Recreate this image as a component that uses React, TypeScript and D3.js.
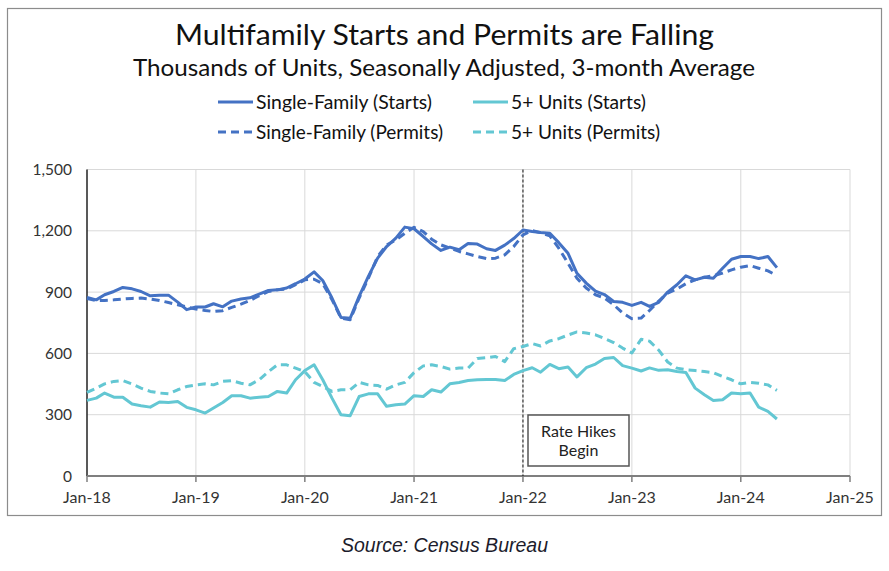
import React from "react";
import * as d3 from "d3";

const startMonth = new Date(2018, 0, 1);
const sfStarts = [874, 862, 887, 903, 923, 916, 903, 882, 885, 885, 851, 814, 827, 827, 843, 828, 856, 866, 872, 890, 908, 911, 920, 941, 964, 999, 957, 871, 776, 772, 879, 977, 1066, 1123, 1164, 1218, 1210, 1172, 1136, 1104, 1120, 1107, 1138, 1135, 1112, 1104, 1130, 1162, 1204, 1197, 1192, 1188, 1142, 1090, 992, 944, 905, 888, 854, 850, 835, 850, 830, 850, 900, 936, 980, 960, 973, 968, 1017, 1061, 1074, 1074, 1064, 1074, 1020];
const sfPermits = [868, 859, 859, 862, 866, 869, 871, 866, 859, 849, 838, 827, 817, 810, 805, 809, 825, 841, 859, 882, 903, 911, 915, 936, 960, 963, 941, 863, 773, 765, 871, 968, 1074, 1131, 1155, 1188, 1217, 1196, 1159, 1131, 1115, 1099, 1087, 1074, 1064, 1066, 1082, 1123, 1180, 1201, 1191, 1175, 1115, 1041, 968, 920, 887, 871, 838, 798, 770, 773, 810, 856, 895, 915, 941, 960, 973, 980, 993, 1009, 1022, 1030, 1017, 1004, 981];
const mfStarts = [370, 381, 406, 386, 385, 352, 344, 337, 362, 360, 365, 336, 324, 308, 333, 360, 393, 393, 381, 385, 389, 414, 406, 471, 516, 544, 471, 381, 300, 295, 389, 402, 402, 341, 349, 352, 393, 389, 422, 411, 451, 458, 467, 471, 472, 472, 467, 497, 516, 530, 508, 546, 525, 533, 485, 530, 548, 575, 580, 540, 528, 514, 529, 517, 520, 511, 506, 430, 398, 370, 373, 406, 402, 406, 337, 316, 279];
const mfPermits = [409, 430, 451, 463, 467, 450, 430, 414, 406, 402, 422, 438, 446, 451, 446, 463, 467, 454, 446, 471, 511, 544, 544, 528, 511, 458, 438, 414, 422, 422, 458, 446, 443, 425, 446, 458, 506, 539, 544, 536, 523, 528, 528, 575, 579, 585, 560, 623, 634, 648, 636, 661, 672, 690, 705, 700, 691, 673, 653, 626, 602, 669, 660, 616, 558, 528, 520, 516, 511, 506, 487, 471, 451, 458, 454, 446, 419];

const yTicks = [0, 300, 600, 900, 1200, 1500];
const xTickYears = [2018, 2019, 2020, 2021, 2022, 2023, 2024, 2025];
const rateHikeDate = new Date(2022, 0, 1);

const title = "Multifamily Starts and Permits are Falling";
const subtitle = "Thousands of Units, Seasonally Adjusted, 3-month Average";
const source = "Source: Census Bureau";

const DARK = "#4472C4";
const TEAL = "#63C7D3";

const seriesList = [
  { name: "Single-Family (Starts)", values: sfStarts, color: DARK, dashed: false },
  { name: "Single-Family (Permits)", values: sfPermits, color: DARK, dashed: true },
  { name: "5+ Units (Starts)", values: mfStarts, color: TEAL, dashed: false },
  { name: "5+ Units (Permits)", values: mfPermits, color: TEAL, dashed: true },
];

export default function App() {
  const W = 889, H = 571;
  const left = 87, right = 850, top = 169.5, bottom = 476;
  const x = d3.scaleTime().domain([new Date(2018, 0, 1), new Date(2025, 0, 1)]).range([left, right]);
  const y = d3.scaleLinear().domain([0, 1500]).range([bottom, top]);
  const dateOf = (i: number) => d3.timeMonth.offset(startMonth, i);
  const line = d3.line<number>().x((_, i) => x(dateOf(i))).y((d) => y(d));
  const font = "Lato, 'Open Sans', sans-serif";
  const xr = x(rateHikeDate);

  const legendItems = [
    { s: seriesList[0], lx: 218, ly: 102, tl: 176 },
    { s: seriesList[2], lx: 473, ly: 102, tl: 135 },
    { s: seriesList[1], lx: 218, ly: 132, tl: 187 },
    { s: seriesList[3], lx: 473, ly: 132, tl: 149 },
  ];

  return (
    <svg width={W} height={H} style={{ position: "absolute", left: 0, top: 0, display: "block", background: "#fff" }}>
      <rect x={7.5} y={8.5} width={874} height={507} fill="#fff" stroke="#8c8c8c" strokeWidth={1.2} />
      <text x={175} y={45} fontFamily={font} fontSize={28} fill="#111" textLength={539} lengthAdjust="spacingAndGlyphs">{title}</text>
      <text x={133} y={76} fontFamily={font} fontSize={22.5} fill="#111" textLength={622} lengthAdjust="spacingAndGlyphs">{subtitle}</text>
      {legendItems.map((it, i) => (
        <g key={i}>
          <line x1={it.lx} x2={it.lx + 35} y1={it.ly} y2={it.ly} stroke={it.s.color} strokeWidth={3}
            strokeDasharray={it.s.dashed ? "8,5" : undefined} />
          <text x={it.lx + 38} y={it.ly + 6.5} fontFamily={font} fontSize={18.5} fill="#111" textLength={it.tl} lengthAdjust="spacingAndGlyphs">{it.s.name}</text>
        </g>
      ))}
      {yTicks.filter((t) => t > 0).map((t) => (
        <line key={"gy" + t} x1={left} x2={right} y1={y(t)} y2={y(t)} stroke="#d9d9d9" strokeWidth={1} />
      ))}
      {xTickYears.slice(1).map((yr) => (
        <line key={"gx" + yr} x1={x(new Date(yr, 0, 1))} x2={x(new Date(yr, 0, 1))} y1={top} y2={bottom} stroke="#d9d9d9" strokeWidth={1} />
      ))}
      {yTicks.map((t) => (
        <text key={"ty" + t} x={72} y={y(t) + 5.5} textAnchor="end" fontFamily={font} fontSize={15.5} fill="#333">{d3.format(",")(t)}</text>
      ))}
      <line x1={left} x2={left} y1={top} y2={bottom} stroke="#222" strokeWidth={1.5} />
      <line x1={left} x2={right} y1={bottom} y2={bottom} stroke="#7f7f7f" strokeWidth={2} />
      {xTickYears.map((yr) => {
        const xx = x(new Date(yr, 0, 1));
        return (
          <g key={"tx" + yr}>
            <line x1={xx} x2={xx} y1={bottom} y2={bottom + 6} stroke="#7f7f7f" strokeWidth={1.5} />
            <text x={xx} y={503} textAnchor="middle" fontFamily={font} fontSize={16} fill="#333">{d3.timeFormat("Jan-%y")(new Date(yr, 0, 1))}</text>
          </g>
        );
      })}
      <line x1={xr} x2={xr} y1={top} y2={bottom} stroke="#111" strokeWidth={1} strokeDasharray="3,2" />
      <rect x={528} y={415} width={101} height={51} fill="#fff" stroke="#555" strokeWidth={1.5} />
      <text x={578.5} y={437} textAnchor="middle" fontFamily={font} fontSize={16} fill="#222">Rate Hikes</text>
      <text x={578.5} y={456} textAnchor="middle" fontFamily={font} fontSize={16} fill="#222">Begin</text>
      {seriesList.map((s, i) => (
        <path key={"s" + i} d={line(s.values) || ""} fill="none" stroke={s.color} strokeWidth={3}
          strokeDasharray={s.dashed ? "8,5" : undefined} strokeLinejoin="round" />
      ))}
      <text x={444.5} y={552} textAnchor="middle" fontFamily="'Liberation Sans', Arial, sans-serif" fontStyle="italic" fontSize={19.5} fill="#1c1c2c">{source}</text>
    </svg>
  );
}
